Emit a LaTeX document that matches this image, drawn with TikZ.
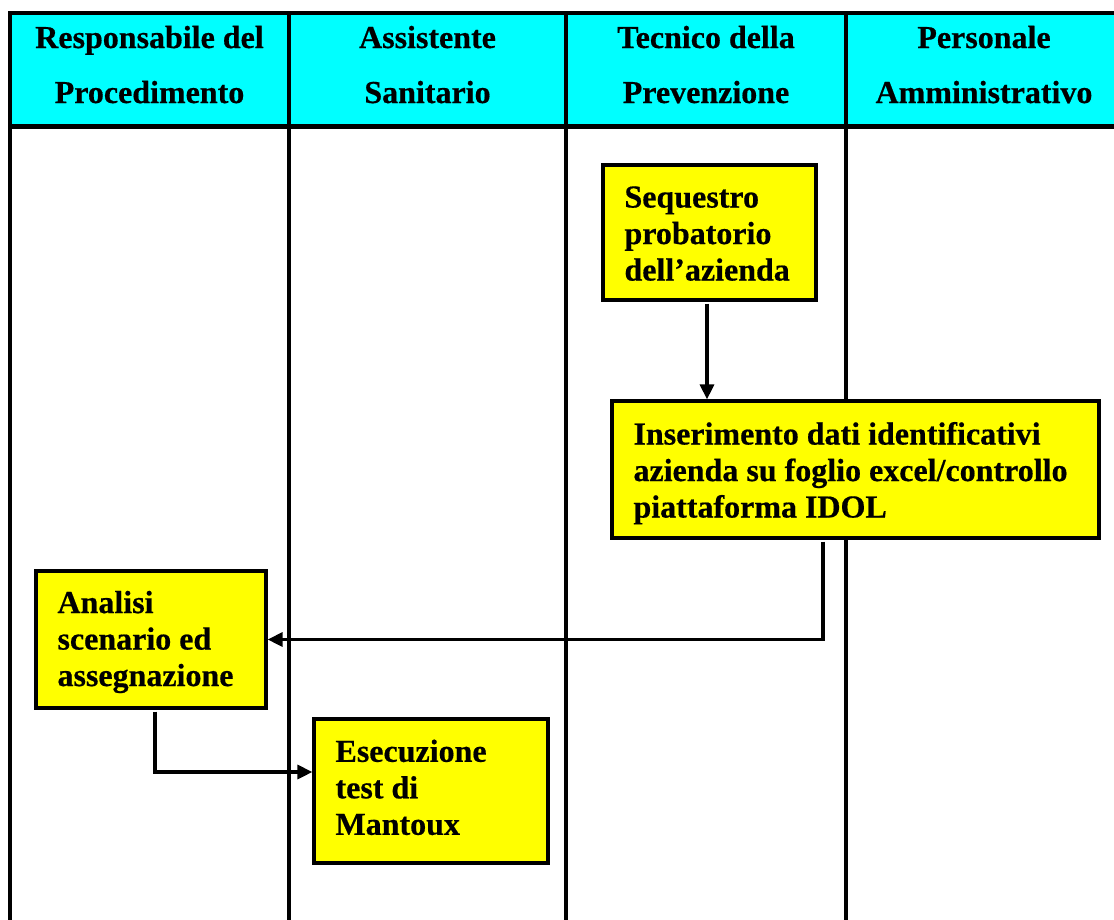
\documentclass[tikz,border=0pt]{standalone}
\usepackage{fontspec}
\setmainfont{Liberation Serif}[BoldFeatures={FakeBold=0.5}]
\usetikzlibrary{arrows.meta}
\definecolor{hdrcyan}{RGB}{0,255,255}
\definecolor{boxyellow}{RGB}{255,255,0}
\newcommand{\topstrut}{\rule{0pt}{34pt}}
\begin{document}
\begin{tikzpicture}[x=1pt,y=-1pt,
  lane/.style={line width=4.5pt},
  hdr/.style={anchor=base,text width=270pt,align=flush center,inner sep=0pt,
    font=\fontsize{32}{55}\selectfont\bfseries},
  stepbox/.style={draw=black,line width=3.2pt,fill=boxyellow,align=flush left,
    inner xsep=21.5pt,inner ysep=2pt,
    font=\fontsize{32}{36.5}\selectfont\bfseries},
  flow/.style={line width=3.2pt,-{Triangle[length=15pt,width=14pt]}}]
\useasboundingbox (0,0) rectangle (1114,919);
% header band
\fill[hdrcyan] (10,13) rectangle (1125,126.5);
\draw[lane] (8,13) -- (1125,13);
\draw[lane] (8,126.5) -- (1125,126.5);
\foreach \xx in {10,289,566,846} {\draw[lane] (\xx,11) -- (\xx,925);}
% header texts
\node[hdr] (h1) at (149.5,48) {Responsabile del\\Procedimento};
\node[hdr] (h2) at (427.5,48) {Assistente\\Sanitario};
\node[hdr] (h3) at (706,48) {Tecnico della\\Prevenzione};
\node[hdr] (h4) at (984,48) {Personale\\Amministrativo};
% boxes
\node[stepbox,text width=170pt,minimum width=213pt,minimum height=135pt] (seq) at (709.5,232.5)
  {\topstrut Sequestro\\probatorio\\dell’azienda\strut};
\node[stepbox,text width=444pt,minimum width=487pt,minimum height=137pt] (ins) at (855.5,469.5)
  {\topstrut Inserimento dati identificativi\\azienda su foglio excel/controllo\\piattaforma IDOL\strut};
\node[stepbox,text width=187pt,minimum width=230pt,minimum height=137pt] (ana) at (151,639.5)
  {\rule{0pt}{31pt}Analisi\\scenario ed\\assegnazione\strut};
\node[stepbox,text width=191pt,minimum width=234pt,minimum height=144pt] (ese) at (431,791)
  {\strut Esecuzione\\test di\\Mantoux\strut};
% connectors
\draw[flow] ([xshift=-2.5pt,yshift=-2pt]seq.south) -- ([xshift=-2.5pt]seq.south |- ins.north);
\draw[flow] ([xshift=-32.5pt,yshift=-2pt]ins.south) |- (ana.east);
\draw[flow] ([xshift=4pt,yshift=-2pt]ana.south) |- ([yshift=19pt]ese.west);
\end{tikzpicture}
\end{document}
